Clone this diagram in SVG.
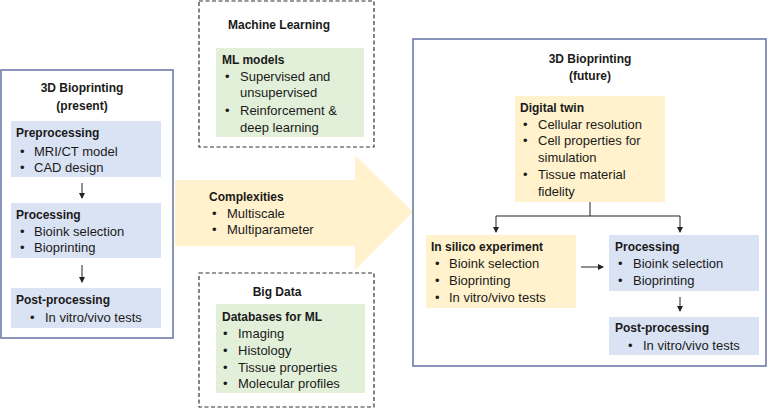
<svg xmlns="http://www.w3.org/2000/svg" width="767" height="419" viewBox="0 0 767 419">
<style>
text{font-family:"Liberation Sans",Arial,sans-serif;font-size:13px;fill:#1a1a1a;dominant-baseline:central}
.b{font-weight:bold;font-size:12px}
.c{text-anchor:middle}
.frame{fill:#fff;stroke:#6272a2;stroke-width:1.5}
.dash{fill:#fff;stroke:#333;stroke-width:1.2;stroke-dasharray:4 2.5}
.blue{fill:#dae3f3}
.green{fill:#e2f0d9}
.yellow{fill:#fff2cc}
.ln{fill:none;stroke:#222;stroke-width:1}
</style>
<defs>
<marker id="ah" viewBox="0 0 6 6" refX="5" refY="3" markerWidth="6" markerHeight="6" markerUnits="userSpaceOnUse" orient="auto">
<path d="M0,0 L6,3 L0,6 z" fill="#222"/>
</marker>
</defs>
<rect width="767" height="419" fill="#fff"/>

<g id="complexities">
<polygon class="yellow" points="175,180 355,180 355,155 413,212 355,270 355,246 175,246"/>
<text x="209" y="197" class="b">Complexities</text>
<text x="212" y="213">•</text><text x="227" y="213">Multiscale</text>
<text x="212" y="229">•</text><text x="227" y="229">Multiparameter</text>
</g>

<g id="present">
<rect class="frame" x="1" y="70" width="172" height="268"/>
<text x="82" y="88" class="b c">3D Bioprinting</text>
<text x="82" y="106" class="b c">(present)</text>
<g id="pre-present">
<rect class="blue" x="11" y="121" width="150" height="56"/>
<text x="16" y="133" class="b">Preprocessing</text>
<text x="20" y="151">•</text><text x="34" y="151">MRI/CT model</text>
<text x="20" y="167">•</text><text x="34" y="167">CAD design</text>
</g>
<g id="proc-present">
<rect class="blue" x="11" y="203" width="150" height="55"/>
<text x="16" y="215" class="b">Processing</text>
<text x="20" y="231">•</text><text x="34" y="231">Bioink selection</text>
<text x="20" y="247">•</text><text x="34" y="247">Bioprinting</text>
</g>
<g id="post-present">
<rect class="blue" x="11" y="288" width="150" height="40"/>
<text x="16" y="300" class="b">Post-processing</text>
<text x="30" y="317">•</text><text x="45" y="317">In vitro/vivo tests</text>
</g>
</g>

<g id="ml">
<rect class="dash" x="199" y="1" width="175" height="146"/>
<text x="279" y="25" class="b c">Machine Learning</text>
<rect class="green" x="216" y="48" width="148" height="89"/>
<text x="222" y="60" class="b">ML models</text>
<text x="225" y="76">•</text><text x="240" y="76">Supervised and</text>
<text x="240" y="92">unsupervised</text>
<text x="225" y="110">•</text><text x="240" y="110">Reinforcement &amp;</text>
<text x="240" y="127">deep learning</text>
</g>

<g id="bigdata">
<rect class="dash" x="199" y="273" width="175" height="134"/>
<text x="277" y="292" class="b c">Big Data</text>
<rect class="green" x="216" y="304" width="149" height="89"/>
<text x="222" y="317" class="b">Databases for ML</text>
<text x="223" y="333">•</text><text x="238" y="333">Imaging</text>
<text x="223" y="350">•</text><text x="238" y="350">Histology</text>
<text x="223" y="367">•</text><text x="238" y="367">Tissue properties</text>
<text x="223" y="383">•</text><text x="238" y="383">Molecular profiles</text>
</g>

<g id="future">
<rect class="frame" x="413" y="39" width="353" height="327"/>
<text x="590" y="59" class="b c">3D Bioprinting</text>
<text x="590" y="76" class="b c">(future)</text>
<g id="digital-twin">
<rect class="yellow" x="515" y="96" width="150" height="106"/>
<text x="520" y="108" class="b">Digital twin</text>
<text x="523" y="124">•</text><text x="538" y="124">Cellular resolution</text>
<text x="523" y="140">•</text><text x="538" y="140">Cell properties for</text>
<text x="538" y="157">simulation</text>
<text x="523" y="174">•</text><text x="538" y="174">Tissue material</text>
<text x="538" y="191">fidelity</text>
</g>
<g id="in-silico">
<rect class="yellow" x="426" y="235" width="150" height="73"/>
<text x="431" y="247" class="b">In silico experiment</text>
<text x="435" y="263">•</text><text x="449" y="263">Bioink selection</text>
<text x="435" y="280">•</text><text x="449" y="280">Bioprinting</text>
<text x="435" y="297">•</text><text x="449" y="297">In vitro/vivo tests</text>
</g>
<g id="proc-future">
<rect class="blue" x="609" y="235" width="150" height="56"/>
<text x="615" y="247" class="b">Processing</text>
<text x="618" y="263">•</text><text x="633" y="263">Bioink selection</text>
<text x="618" y="280">•</text><text x="633" y="280">Bioprinting</text>
</g>
<g id="post-future">
<rect class="blue" x="609" y="317" width="150" height="38"/>
<text x="615" y="328" class="b">Post-processing</text>
<text x="628" y="345">•</text><text x="643" y="345">In vitro/vivo tests</text>
</g>
</g>

<g id="connectors">
<line class="ln" x1="82" y1="183" x2="82" y2="198" marker-end="url(#ah)"/>
<line class="ln" x1="82" y1="265" x2="82" y2="282" marker-end="url(#ah)"/>
<line class="ln" x1="590" y1="202" x2="590" y2="216"/>
<line class="ln" x1="496" y1="216" x2="680" y2="216"/>
<line class="ln" x1="496" y1="216" x2="496" y2="232" marker-end="url(#ah)"/>
<line class="ln" x1="680" y1="216" x2="680" y2="232" marker-end="url(#ah)"/>
<line class="ln" x1="581" y1="267" x2="603" y2="267" marker-end="url(#ah)"/>
<line class="ln" x1="680" y1="297" x2="680" y2="311" marker-end="url(#ah)"/>
</g>
</svg>
